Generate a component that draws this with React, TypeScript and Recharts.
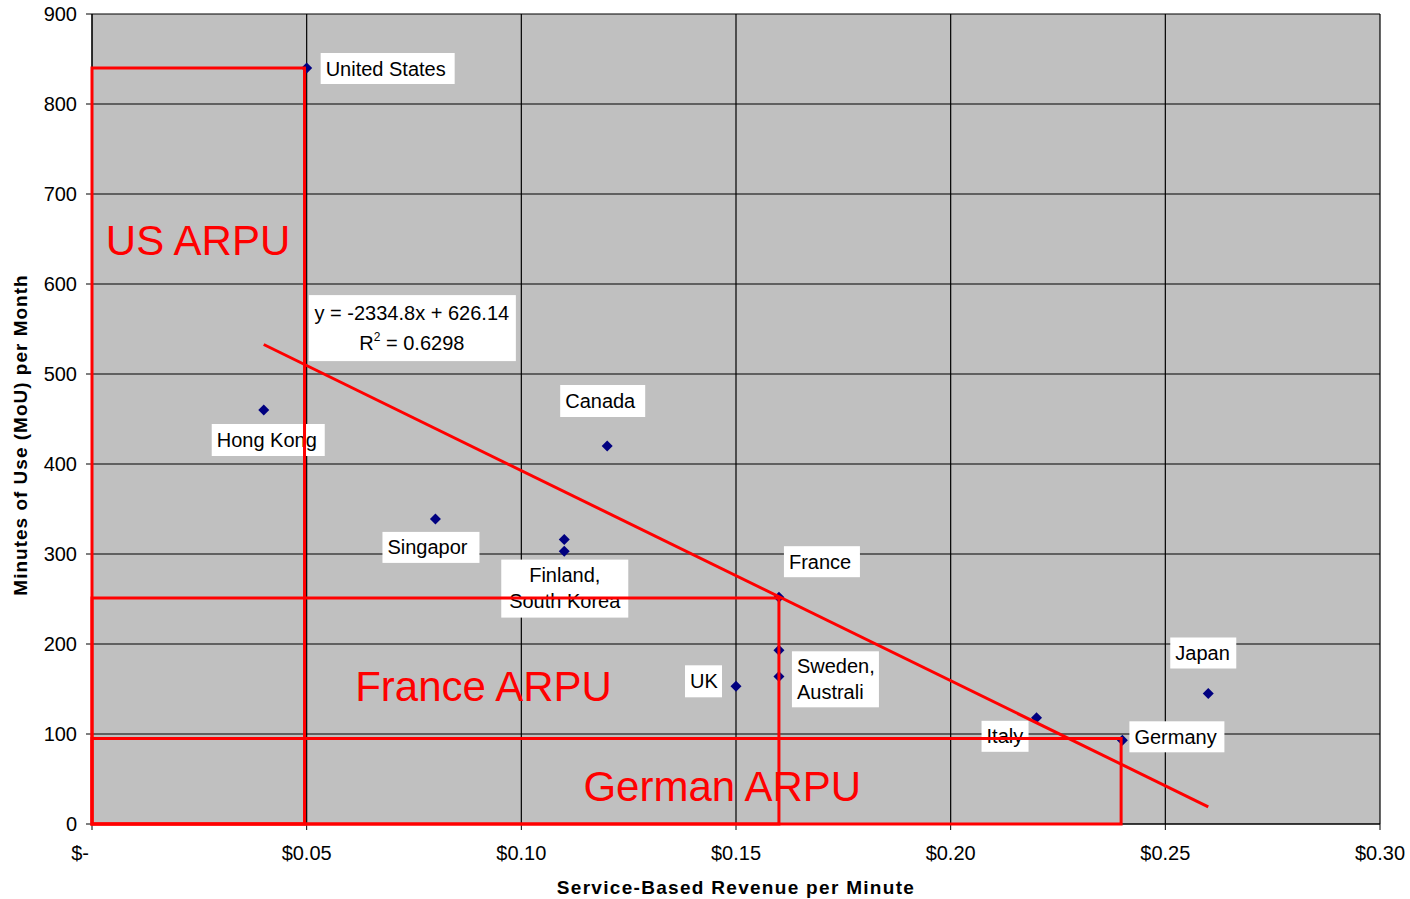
import {
  ScatterChart,
  Scatter,
  XAxis,
  YAxis,
  CartesianGrid,
  ReferenceArea,
  ReferenceLine,
} from 'recharts'

const FONT = '"Liberation Sans", Arial, sans-serif'

// one entry per country, same order in every list
const countries = [
  'United States', 'Hong Kong', 'Singapore', 'Canada', 'Finland', 'South Korea',
  'France', 'Sweden', 'Australia', 'UK', 'Italy', 'Germany', 'Japan',
]
const revenuePerMinute = [0.05, 0.04, 0.08, 0.12, 0.11, 0.11, 0.16, 0.16, 0.16, 0.15, 0.22, 0.24, 0.26]
const minutesOfUse = [840, 460, 339, 420, 316, 303, 252, 193, 164, 153, 118, 93, 145]

const xTicks = [0, 0.05, 0.1, 0.15, 0.2, 0.25, 0.3]
const yTicks = [0, 100, 200, 300, 400, 500, 600, 700, 800, 900]

// ARPU boxes: each spans from the origin to (revenue, minutes)
const arpuNames = ['US ARPU', 'France ARPU', 'German ARPU']
const arpuRevenue = [0.0495, 0.16, 0.2397]
const arpuMinutes = [840, 251, 95]
const arpuCaptionRevenue = [0.0247, 0.0912, 0.1468]
const arpuCaptionMinutes = [649, 153, 42]

// linear trend line shown in the source
const trendSlope = -2334.8
const trendIntercept = 626.14
const trendRange = [0.04, 0.26]
const equationAt = { rate: 0.0745, mou: 551 }

// label boxes next to points (pixel offsets from the point)
type LabelCfg = { lines: string[]; dx: number; dy: number; w: number; h: number; center?: boolean }
const pointLabels: Record<string, LabelCfg> = {
  'United States': { lines: ['United States'], dx: 14, dy: -15, w: 134, h: 31 },
  'Hong Kong': { lines: ['Hong Kong'], dx: -52, dy: 14, w: 113, h: 32 },
  Singapore: { lines: ['Singapor'], dx: -53, dy: 13, w: 97, h: 31 },
  Canada: { lines: ['Canada'], dx: -47, dy: -61, w: 85, h: 32 },
  Finland: { lines: ['Finland,', 'South Korea'], dx: -63, dy: 20, w: 127, h: 58, center: true },
  France: { lines: ['France'], dx: 5, dy: -51, w: 76, h: 31 },
  Sweden: { lines: ['Sweden,', 'Australi'], dx: 13, dy: 1, w: 87, h: 56 },
  UK: { lines: ['UK'], dx: -51, dy: -21, w: 37, h: 32 },
  Italy: { lines: ['Italy'], dx: -55, dy: 3, w: 47, h: 31 },
  Germany: { lines: ['Germany'], dx: 7, dy: -19, w: 95, h: 31 },
  Japan: { lines: ['Japan'], dx: -38, dy: -56, w: 66, h: 31 },
}

const points = countries.map((country, i) => ({
  country,
  rate: revenuePerMinute[i],
  mou: minutesOfUse[i],
}))

const captions = arpuNames.map((name, i) => ({
  name,
  rate: arpuCaptionRevenue[i],
  mou: arpuCaptionMinutes[i],
}))

const trendSegment = trendRange.map((x) => ({ x, y: trendSlope * x + trendIntercept }))

function CountryPoint(props: any) {
  const { cx, cy, payload } = props
  const lab = pointLabels[payload.country]
  return (
    <g>
      {lab && (
        <g>
          <rect x={cx + lab.dx} y={cy + lab.dy} width={lab.w} height={lab.h} fill="#fff" />
          {lab.lines.map((line, i) => (
            <text
              key={i}
              x={lab.center ? cx + lab.dx + lab.w / 2 : cx + lab.dx + 5}
              y={cy + lab.dy + (lab.lines.length === 1 ? lab.h / 2 + 7 : 22 + i * 26)}
              textAnchor={lab.center ? 'middle' : 'start'}
              fontSize={20}
              fontFamily={FONT}
              fill="#000"
            >
              {line}
            </text>
          ))}
        </g>
      )}
      <path d={`M${cx},${cy - 5.5}L${cx + 5.5},${cy}L${cx},${cy + 5.5}L${cx - 5.5},${cy}Z`} fill="#000080" />
    </g>
  )
}

function Caption(props: any) {
  const { cx, cy, payload } = props
  return (
    <text x={cx} y={cy + 15} textAnchor="middle" fontSize={42} fontFamily={FONT} fill="#ff0000">
      {payload.name}
    </text>
  )
}

function Equation(props: any) {
  const { cx, cy } = props
  return (
    <g>
      <rect x={cx - 103} y={cy - 33} width={207} height={66} fill="#fff" />
      <text x={cx} y={cy - 8} textAnchor="middle" fontSize={20} fontFamily={FONT} fill="#000">
        y = -2334.8x + 626.14
      </text>
      <text x={cx} y={cy + 22} textAnchor="middle" fontSize={20} fontFamily={FONT} fill="#000">
        R<tspan fontSize={12} dy={-9}>2</tspan>
        <tspan dy={9}> = 0.6298</tspan>
      </text>
    </g>
  )
}

function XTick(props: any) {
  const { x, y, payload } = props
  const v = payload.value as number
  const zero = v === 0
  return (
    <text x={zero ? x - 3 : x} y={y + 28} textAnchor={zero ? 'end' : 'middle'} fontSize={20} fontFamily={FONT} fill="#000">
      {zero ? '$-' : `$${v.toFixed(2)}`}
    </text>
  )
}

function YTick(props: any) {
  const { x, y, payload } = props
  return (
    <text x={x} y={y + 7} textAnchor="end" fontSize={20} fontFamily={FONT} fill="#000">
      {payload.value}
    </text>
  )
}

export default function App() {
  return (
    <div style={{ position: 'absolute', left: 0, top: 0, fontFamily: FONT, background: '#fff' }}>
      <ScatterChart width={1410} height={899} margin={{ top: 14, right: 30, bottom: 0, left: 1 }}>
        <CartesianGrid stroke="#000" strokeWidth={1.2} fill="#c0c0c0" fillOpacity={1} />
        <XAxis
          type="number"
          dataKey="rate"
          domain={[0, 0.3]}
          ticks={xTicks}
          height={75}
          tick={<XTick />}
          tickSize={6}
          tickMargin={2}
          tickLine={{ stroke: '#000' }}
          axisLine={{ stroke: '#000' }}
          label={{
            content: ({ viewBox }: any) => (
              <text
                x={viewBox.x + viewBox.width / 2}
                y={viewBox.y + 70}
                textAnchor="middle"
                fontSize={19}
                fontWeight="bold"
                letterSpacing={1.3}
                fontFamily={FONT}
                fill="#000"
              >
                Service-Based Revenue per Minute
              </text>
            ),
          }}
        />
        <YAxis
          type="number"
          dataKey="mou"
          domain={[0, 900]}
          ticks={yTicks}
          width={91}
          tick={<YTick />}
          tickSize={6}
          tickMargin={9}
          tickLine={{ stroke: '#000' }}
          axisLine={{ stroke: '#000' }}
          label={{
            content: () => (
              <text
                x={27}
                y={435}
                transform="rotate(-90, 27, 435)"
                textAnchor="middle"
                fontSize={19}
                fontWeight="bold"
                letterSpacing={1.0}
                fontFamily={FONT}
                fill="#000"
              >
                Minutes of Use (MoU) per Month
              </text>
            ),
          }}
        />
        <Scatter data={captions} shape={<Caption />} isAnimationActive={false} />
        <Scatter data={[equationAt]} shape={<Equation />} isAnimationActive={false} />
        <Scatter data={points} shape={<CountryPoint />} isAnimationActive={false} />
        {arpuNames.map((name, i) => (
          <ReferenceArea
            key={name}
            x1={0}
            x2={arpuRevenue[i]}
            y1={0}
            y2={arpuMinutes[i]}
            fill="none"
            fillOpacity={0}
            stroke="#ff0000"
            strokeWidth={3}
            zIndex={700}
          />
        ))}
        <ReferenceLine segment={trendSegment} stroke="#ff0000" strokeWidth={3} zIndex={700} />
      </ScatterChart>
    </div>
  )
}
